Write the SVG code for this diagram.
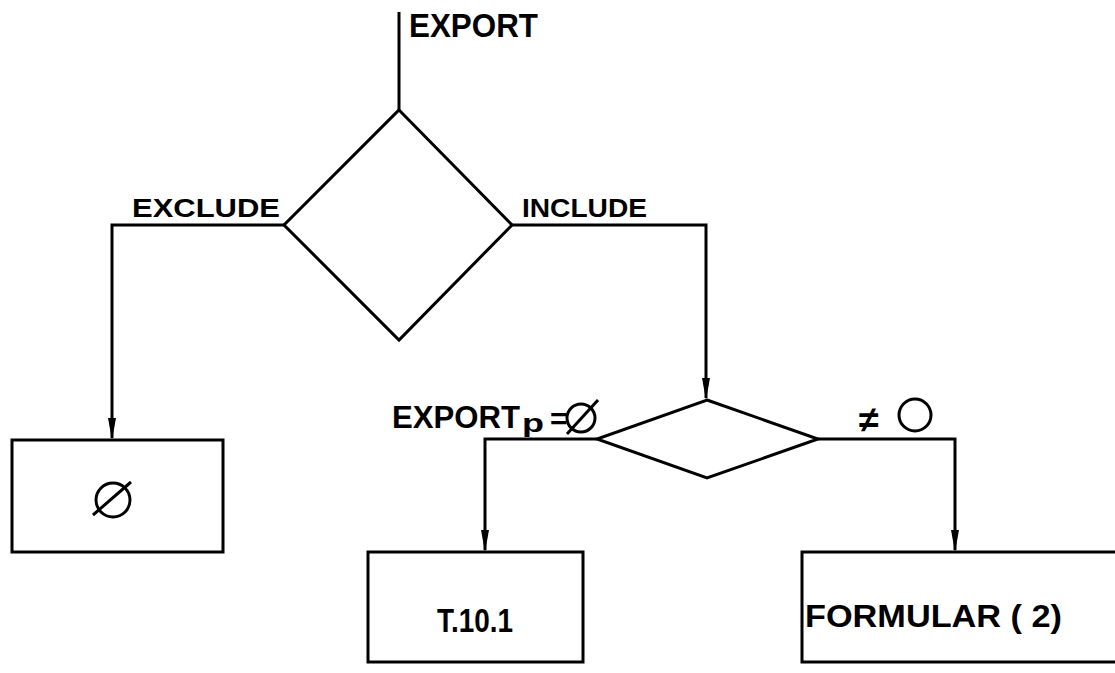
<svg xmlns="http://www.w3.org/2000/svg" width="1115" height="673" viewBox="0 0 1115 673">
<style>
.ln{fill:none;stroke:#000;stroke-width:3;stroke-linejoin:miter}
.sh{fill:#fff;stroke:#000;stroke-width:3}
.t{font-family:"Liberation Sans",Arial,sans-serif;font-weight:bold;fill:#000}
.sym{fill:none;stroke:#000;stroke-width:3}
.ah{fill:#000}
</style>
<rect width="1115" height="673" fill="#fff"/>
<g id="connectors">
<path class="ln" d="M399,12 V110"/>
<path class="ln" d="M284,225 H112 V438"/>
<path class="ah" d="M108,418 L116,418 L112,440 Z"/>
<path class="ln" d="M512,225 H706 V398"/>
<path class="ah" d="M702,378 L710,378 L706,400 Z"/>
<path class="ln" d="M597,439 H485 V550"/>
<path class="ah" d="M481,530 L489,530 L485,552 Z"/>
<path class="ln" d="M818,439 H955 V550"/>
<path class="ah" d="M951,530 L959,530 L955,552 Z"/>
<text class="t" x="409" y="37" font-size="33" textLength="129" lengthAdjust="spacingAndGlyphs">EXPORT</text>
<text class="t" x="132" y="217" font-size="26" textLength="148" lengthAdjust="spacingAndGlyphs">EXCLUDE</text>
<text class="t" x="522" y="217" font-size="26" textLength="125" lengthAdjust="spacingAndGlyphs">INCLUDE</text>
<text class="t" x="392" y="428" font-size="32" textLength="128" lengthAdjust="spacingAndGlyphs">EXPORT</text>
<text class="t" x="522" y="432" font-size="26" textLength="22" lengthAdjust="spacingAndGlyphs">p</text>
<text class="t" x="550" y="429" font-size="30">=</text>
<g class="sym"><circle cx="581" cy="418" r="14"/><line x1="567" y1="434" x2="598" y2="400"/></g>
<text class="t" x="859" y="432" font-size="36">≠</text>
<circle class="sym" cx="915" cy="415" r="16"/>
</g>
<g id="decision1">
<polygon class="sh" points="399,110 512,225 399,340 284,225"/>
</g>
<g id="decision2">
<polygon class="sh" points="707,400 818,439 707,478 597,439"/>
</g>
<g id="box-empty">
<rect class="sh" x="12" y="440" width="211" height="112"/>
<g class="sym"><circle cx="113" cy="500" r="17"/><line x1="93" y1="515" x2="131" y2="482"/></g>
</g>
<g id="box-t101">
<rect class="sh" x="368" y="552" width="215" height="110"/>
<text class="t" x="437" y="632" font-size="33" textLength="76" lengthAdjust="spacingAndGlyphs">T.10.1</text>
</g>
<g id="box-formular">
<rect class="sh" x="802" y="552" width="320" height="110"/>
<text class="t" x="805" y="627" font-size="32" textLength="257" lengthAdjust="spacingAndGlyphs">FORMULAR  ( 2)</text>
</g>
</svg>
